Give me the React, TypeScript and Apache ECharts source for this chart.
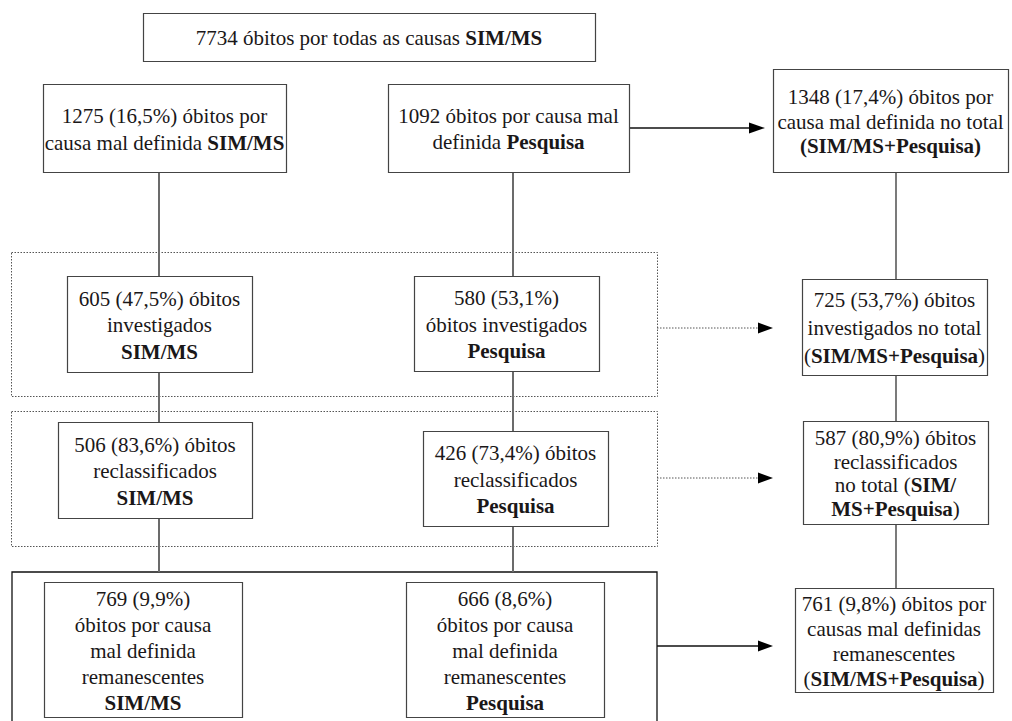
import React, { useEffect, useRef } from "react";
import * as echarts from "echarts";

// Flowchart content (text per box, lines; {b|...} marks bold)
const topBox = ["7734 óbitos por todas as causas {b|SIM/MS}"];
const simBoxes = [
  ["1275 (16,5%) óbitos por", "causa mal definida {b|SIM/MS}"],
  ["605 (47,5%) óbitos", "investigados", "{b|SIM/MS}"],
  ["506 (83,6%) óbitos", "reclassificados", "{b|SIM/MS}"],
  ["769 (9,9%)", "óbitos por causa", "mal definida", "remanescentes", "{b|SIM/MS}"],
];
const pesqBoxes = [
  ["1092 óbitos por causa mal", "definida {b|Pesquisa}"],
  ["580 (53,1%)", "óbitos investigados", "{b|Pesquisa}"],
  ["426 (73,4%) óbitos", "reclassificados", "{b|Pesquisa}"],
  ["666 (8,6%)", "óbitos por causa", "mal definida", "remanescentes", "{b|Pesquisa}"],
];
const totalBoxes = [
  ["1348 (17,4%) óbitos por", "causa mal definida no total", "{b|(SIM/MS+Pesquisa)}"],
  ["725 (53,7%) óbitos", "investigados no total", "({b|SIM/MS+Pesquisa})"],
  ["587 (80,9%) óbitos", "reclassificados", "no total ({b|SIM/}", "{b|MS+Pesquisa})"],
  ["761 (9,8%) óbitos por", "causas mal definidas", "remanescentes", "({b|SIM/MS+Pesquisa})"],
];

// Layout (boxes: x0, y0, x1, y1, lineHeight)
const topLayout = [143, 13, 595, 61, 26];
const simLayout = [
  [43, 84, 286, 172, 27],
  [67, 276, 252, 372, 26.5],
  [58, 422, 252, 518, 26.5],
  [44, 582, 242, 717, 26],
];
const pesqLayout = [
  [388, 84, 629, 172, 26],
  [414, 276, 599, 371, 26.5],
  [423, 431, 608, 526, 26.5],
  [406, 582, 604, 717, 26],
];
const totalLayout = [
  [773, 69, 1008, 172, 24.5],
  [802, 279, 987, 375, 28],
  [803, 421, 988, 524, 23.7],
  [795, 588, 993, 692, 25],
];

const FONT = "'Liberation Serif', 'DejaVu Serif', serif";
const FS = 21;
const TEXT_COLOR = "#1a1718";

function boxEls(lines: string[], l: number[]) {
  const [x0, y0, x1, y1, lh] = l;
  return [
    {
      type: "rect",
      shape: { x: x0 + 0.5, y: y0 + 0.5, width: x1 - x0, height: y1 - y0 },
      style: { fill: "#fff", stroke: "#444", lineWidth: 1.2 },
      z: 2,
    },
    {
      type: "text",
      x: (x0 + x1) / 2,
      y: (y0 + y1) / 2 + 1,
      z: 3,
      style: {
        text: lines.join("\n"),
        fontFamily: FONT,
        fontSize: FS,
        lineHeight: lh,
        fill: TEXT_COLOR,
        align: "center",
        verticalAlign: "middle",
        rich: {
          b: { fontFamily: FONT, fontSize: FS, fontWeight: "bold", lineHeight: lh, fill: TEXT_COLOR },
        },
      },
    },
  ];
}

function vline(x: number, y0: number, y1: number, color: string, w: number) {
  return {
    type: "line",
    shape: { x1: x, y1: y0, x2: x, y2: y1 },
    style: { stroke: color, lineWidth: w },
    z: 1,
  };
}

function arrow(x0: number, xb: number, xt: number, y: number, dotted: boolean) {
  return [
    {
      type: "line",
      shape: { x1: x0, y1: y, x2: xb, y2: y },
      style: { stroke: dotted ? "#555" : "#111", lineWidth: dotted ? 1 : 1.3, lineDash: dotted ? [1.5, 1.5] : null },
      z: 1,
    },
    {
      type: "polygon",
      shape: { points: [[xb, y - 5.5], [xt, y], [xb, y + 5.5]] },
      style: { fill: "#000" },
      z: 1,
    },
  ];
}

function dottedRect(x0: number, y0: number, x1: number, y1: number) {
  return {
    type: "rect",
    shape: { x: x0 + 0.5, y: y0 + 0.5, width: x1 - x0, height: y1 - y0 },
    style: { fill: "none", stroke: "#555", lineWidth: 1, lineDash: [1.5, 1.5] },
    z: 0,
  };
}

export default function App() {
  const ref = useRef<HTMLDivElement>(null);
  useEffect(() => {
    document.body.style.margin = "0";
    const chart = echarts.init(ref.current!, null, { renderer: "svg" });
    const els: any[] = [];
    els.push(dottedRect(11, 252, 657, 396));
    els.push(dottedRect(11, 411, 657, 546));
    els.push({
      type: "polyline",
      shape: { points: [[12, 725], [12, 572], [657, 572], [657, 725]] },
      style: { stroke: "#111", lineWidth: 1.3, fill: "none" },
      z: 0,
    });
    // connectors
    const gray = "#6b6b6b";
    els.push(vline(159, 172, 276, gray, 2));
    els.push(vline(159, 372, 422, gray, 2));
    els.push(vline(159, 518, 572, gray, 2));
    els.push(vline(513, 172, 276, gray, 2));
    els.push(vline(513, 371, 431, gray, 2));
    els.push(vline(513, 526, 572, gray, 2));
    els.push(vline(896, 172, 279, "#222", 1.2));
    els.push(vline(896, 375, 421, "#222", 1.2));
    els.push(vline(896, 524, 588, "#222", 1.2));
    // arrows
    els.push(...arrow(629, 749, 765, 128, false));
    els.push(...arrow(657, 758, 773, 328, true));
    els.push(...arrow(657, 758, 773, 478, true));
    els.push(...arrow(657, 758, 773, 646, false));
    // boxes
    els.push(...boxEls(topBox, topLayout));
    simBoxes.forEach((b, i) => els.push(...boxEls(b, simLayout[i])));
    pesqBoxes.forEach((b, i) => els.push(...boxEls(b, pesqLayout[i])));
    totalBoxes.forEach((b, i) => els.push(...boxEls(b, totalLayout[i])));

    chart.setOption({
      animation: false,
      backgroundColor: "#fff",
      graphic: { elements: els },
    });
    return () => chart.dispose();
  }, []);
  return (
    <div
      ref={ref}
      style={{ position: "absolute", left: 0, top: 0, width: 1012, height: 721 }}
    />
  );
}
